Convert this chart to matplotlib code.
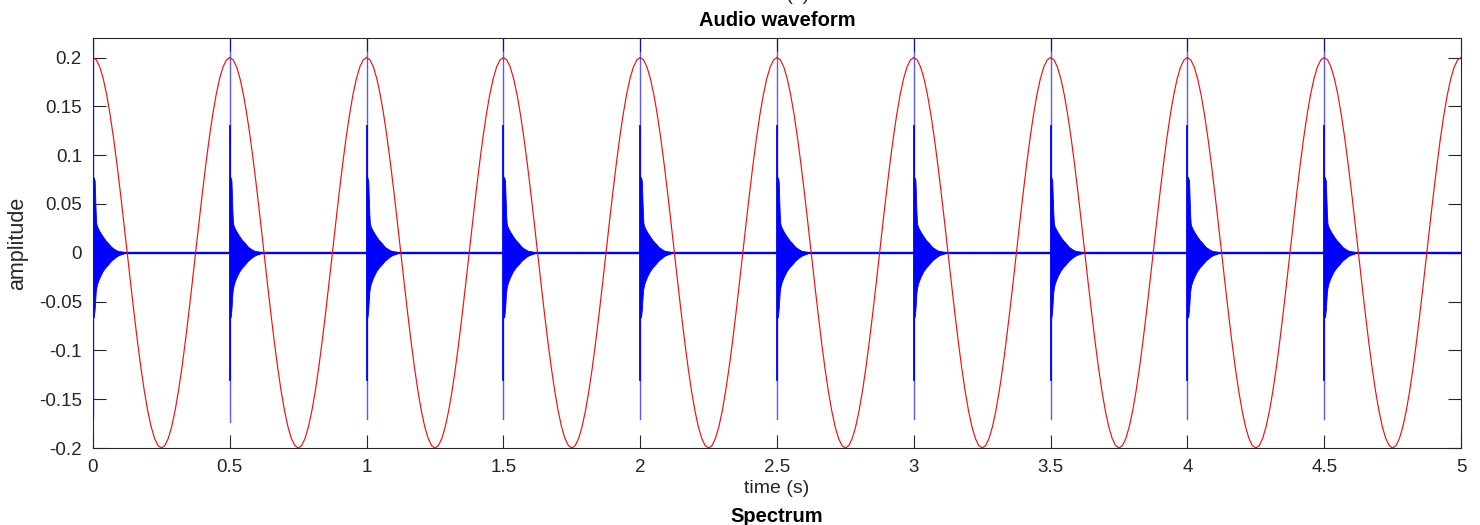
import matplotlib
matplotlib.use("Agg")
import matplotlib.pyplot as plt
import numpy as np

plt.rcParams['font.family'] = ['Liberation Sans', 'DejaVu Sans']
plt.rcParams['axes.unicode_minus'] = False

# red reference tone: one period (0.5 s), repeated each period
red_cycle_t = np.arange(41) * 0.0125
red_cycle_v = [0.2, 0.1975, 0.1902, 0.1782, 0.1618, 0.1414, 0.1176, 0.0908, 0.0618, 0.0313,
               0.0, -0.0313, -0.0618, -0.0908, -0.1176, -0.1414, -0.1618, -0.1782, -0.1902, -0.1975,
               -0.2, -0.1975, -0.1902, -0.1782, -0.1618, -0.1414, -0.1176, -0.0908, -0.0618, -0.0313,
               0.0, 0.0313, 0.0618, 0.0908, 0.1176, 0.1414, 0.1618, 0.1782, 0.1902, 0.1975, 0.2]
period_starts = [0, 0.5, 1.0, 1.5, 2.0, 2.5, 3.0, 3.5, 4.0, 4.5]

# blue clicks: onset times, spike extent and decay envelope (offset from onset)
click_times = [0, 0.5, 1.0, 1.5, 2.0, 2.5, 3.0, 3.5, 4.0, 4.5]
spike_low = [-0.168, -0.173, -0.17, -0.17, -0.17, -0.17, -0.17, -0.17, -0.17, -0.17]
spike_high = 0.3
env_t = [0.0, 0.003, 0.006, 0.008, 0.010, 0.012, 0.015, 0.020, 0.026, 0.035, 0.045, 0.055, 0.067, 0.080, 0.090, 0.100, 0.110]
env_hi = [0.078, 0.077, 0.074, 0.057, 0.040, 0.030, 0.027, 0.024, 0.021, 0.017, 0.013, 0.010, 0.006, 0.0035, 0.002, 0.0015, 0.001]
env_lo = [-0.066, -0.066, -0.058, -0.049, -0.040, -0.036, -0.032, -0.028, -0.024, -0.019, -0.015, -0.012, -0.008, -0.005, -0.003, -0.0018, -0.001]

fig = plt.figure(figsize=(14.8, 5.25), dpi=100)
ax = fig.add_axes([93 / 1480, 1 - 448 / 525, (1461 - 93) / 1480, (448 - 38) / 525])

# baseline (low-level noise between clicks)
ax.plot([0, 5], [0, 0], color='blue', lw=1.7)

for t0, lo in zip(click_times, spike_low):
    et = t0 + np.array(env_t)
    ax.fill_between(et, env_lo, env_hi, color='blue', lw=0.6, edgecolor='blue')
    ax.plot([t0, t0], [lo, spike_high], color='blue', lw=1.0, alpha=0.65)
    ax.plot([t0, t0], [-0.13, 0.13], color='blue', lw=1.3)

for s in period_starts:
    ax.plot(s + red_cycle_t, red_cycle_v, color='#f01010', lw=0.85)

ax.set_xlim(0, 5)
ax.set_ylim(-0.2, 0.22)
ax.set_xticks([0, 0.5, 1, 1.5, 2, 2.5, 3, 3.5, 4, 4.5, 5])
ax.set_xticklabels(['0', '0.5', '1', '1.5', '2', '2.5', '3', '3.5', '4', '4.5', '5'])
yt = [-0.2, -0.15, -0.1, -0.05, 0, 0.05, 0.1, 0.15, 0.2]
ax.set_yticks(yt)
ax.set_yticklabels(['%g' % v for v in yt])

grey = '#262626'
for sp in ax.spines.values():
    sp.set_color(grey)
    sp.set_linewidth(0.8)
ax.tick_params(direction='in', length=9.5, width=0.8, color=grey, labelcolor=grey,
               labelsize=13.5, top=True, right=True, pad=8)

ax.set_xlabel('time (s)', fontsize=14, color=grey, labelpad=3)
ax.set_ylabel('amplitude', fontsize=15.5, color=grey, labelpad=8)
ax.set_title('Audio waveform', fontsize=14.5, fontweight='bold', pad=9)

# neighbouring subplots, mostly cut off by the figure edge
fig.text(777 / 1480, 1 + 5 / 525, 'time (s)', ha='center', va='center', fontsize=14, color=grey)
fig.text(777 / 1480, 1 - 516 / 525, 'Spectrum', ha='center', va='center', fontsize=14.5, fontweight='bold')

fig.savefig('out.png', dpi=100)
